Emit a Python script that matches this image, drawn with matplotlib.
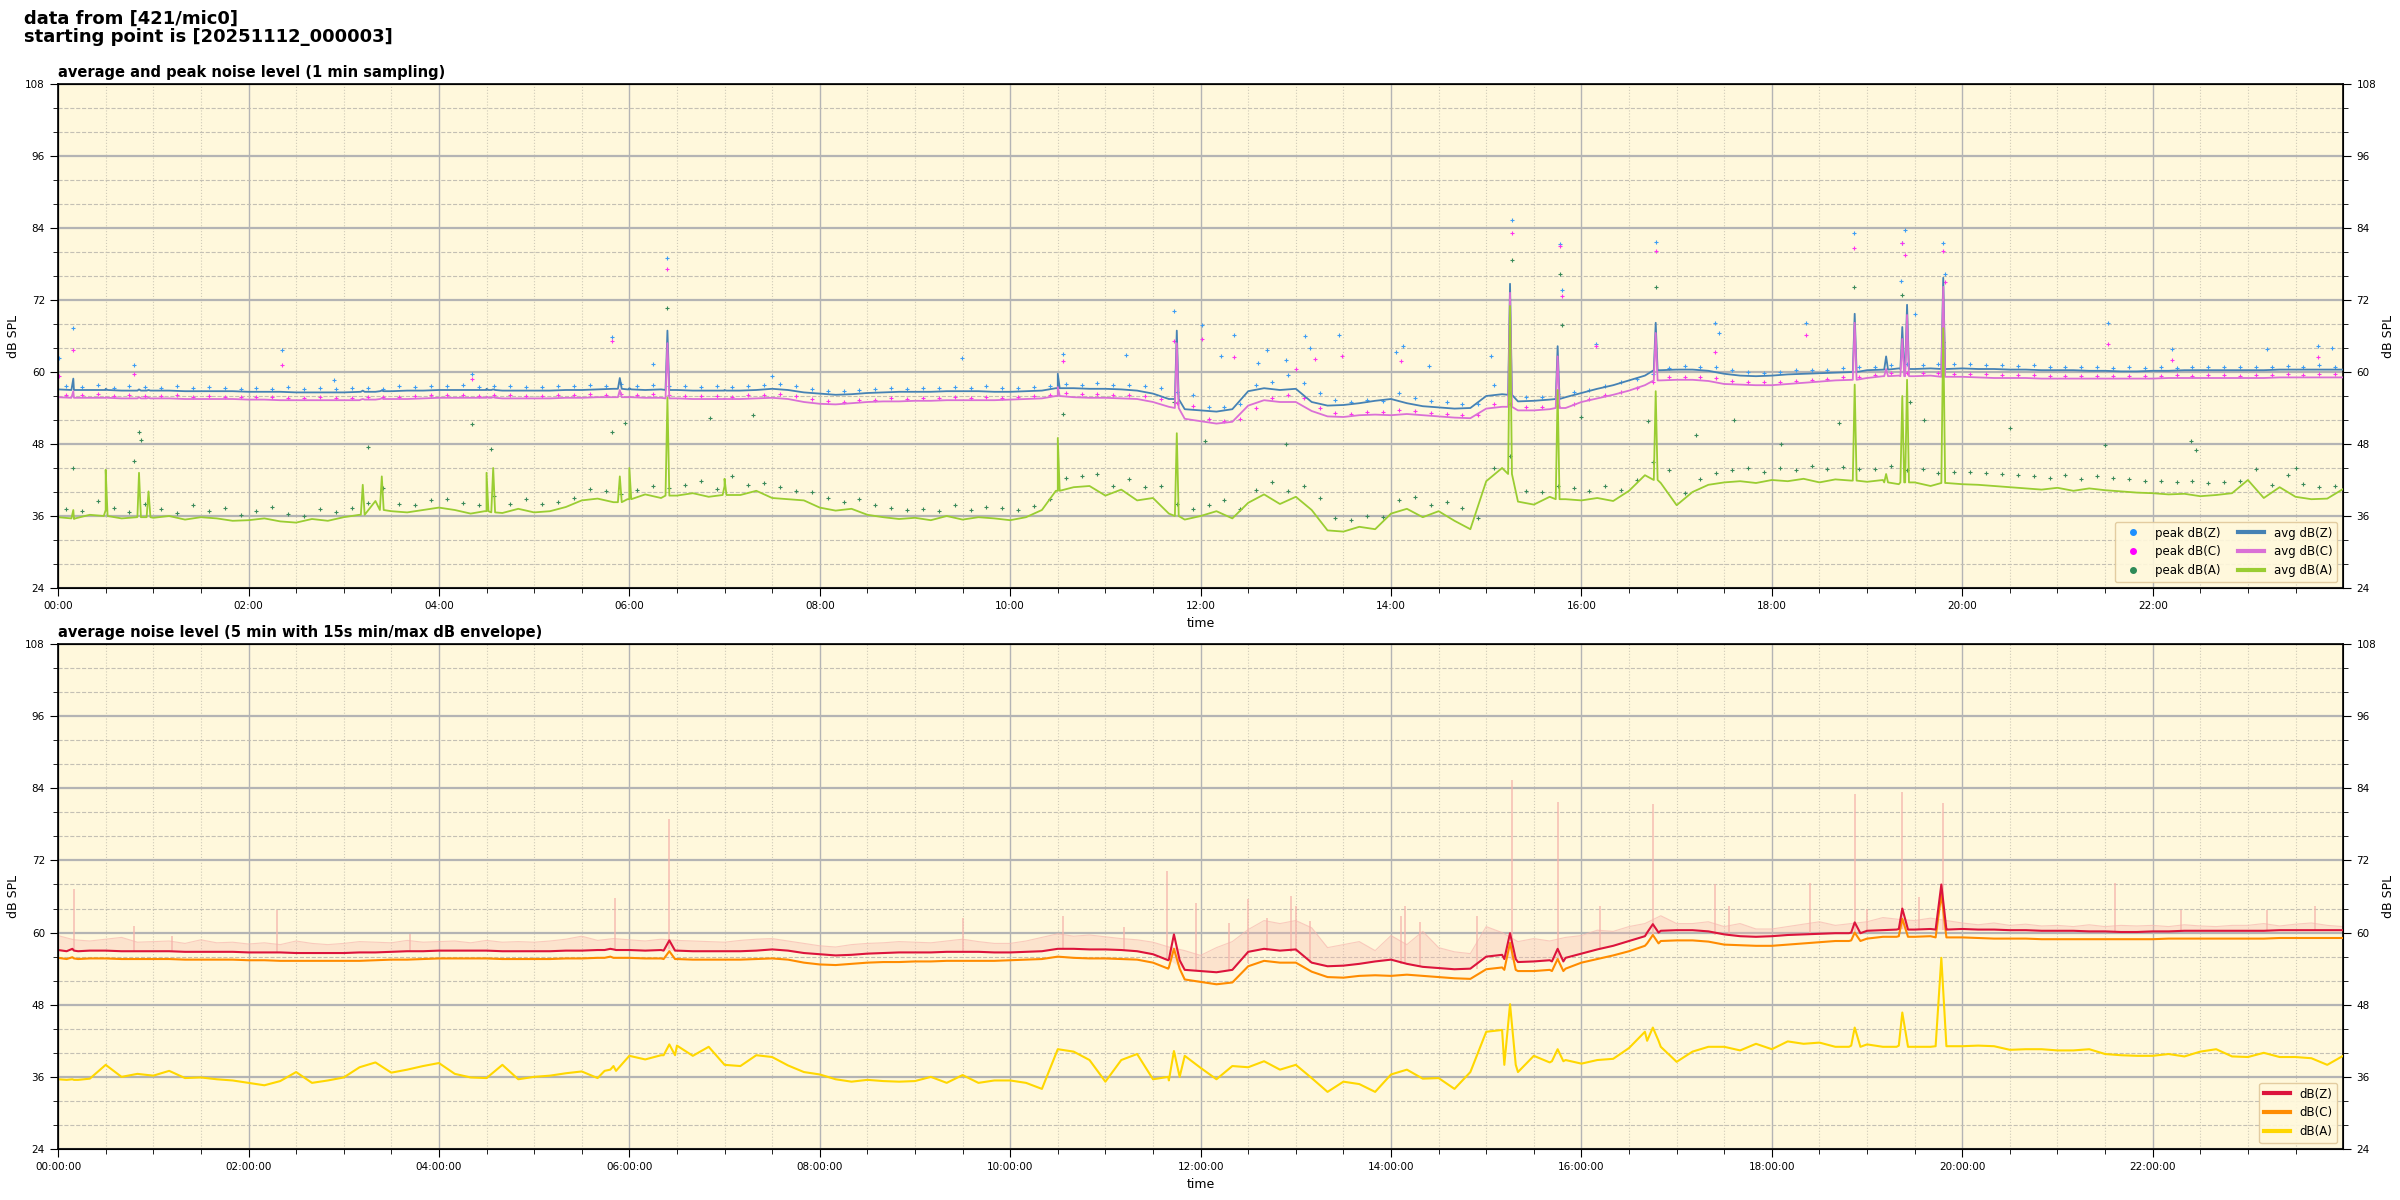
import numpy as np
import matplotlib
matplotlib.use("Agg")
import matplotlib.pyplot as plt
from matplotlib.lines import Line2D
from matplotlib.ticker import MultipleLocator, FixedLocator, FuncFormatter

# 10 min grid (hours), 00:00 .. 24:00
t10 = np.arange(145) / 6.0
# peak samples sit between grid points
tpk = (np.arange(144) + 0.5) / 6.0

# average dB(Z), 10 min steps
z_avg = [
    57.1, 57.0, 57.0, 57.0, 56.9, 56.9,
    56.9, 56.9, 56.8, 56.8, 56.8, 56.8,
    56.7, 56.7, 56.7, 56.6, 56.6, 56.6,
    56.6, 56.7, 56.7, 56.8, 56.9, 56.9,
    57.0, 57.0, 57.0, 57.0, 56.9, 56.9,
    56.9, 56.9, 57.0, 57.0, 57.1, 57.2,
    57.1, 57.0, 57.1, 57.0, 56.9, 56.9,
    56.9, 56.9, 57.0, 57.2, 57.0, 56.6,
    56.4, 56.2, 56.3, 56.5, 56.6, 56.7,
    56.7, 56.7, 56.8, 56.8, 56.8, 56.7,
    56.7, 56.8, 56.9, 57.3, 57.3, 57.2,
    57.2, 57.1, 56.9, 56.4, 55.5, 53.8,
    53.6, 53.4, 53.8, 56.8, 57.3, 57.0,
    57.2, 55.0, 54.4, 54.5, 54.8, 55.2,
    55.5, 54.8, 54.3, 54.1, 53.9, 54.0,
    56.0, 56.3, 55.1, 55.2, 55.4, 55.8,
    56.5, 57.2, 57.8, 58.6, 59.4, 60.3,
    60.4, 60.4, 60.2, 59.7, 59.4, 59.3,
    59.4, 59.6, 59.7, 59.8, 59.9, 60.0,
    60.3, 60.4, 60.6, 60.5, 60.6, 60.5,
    60.6, 60.5, 60.5, 60.4, 60.4, 60.3,
    60.3, 60.3, 60.2, 60.2, 60.1, 60.1,
    60.2, 60.2, 60.3, 60.3, 60.3, 60.3,
    60.3, 60.3, 60.4, 60.4, 60.4, 60.4,
    60.4,
]

# average dB(C), 10 min steps
c_avg = [
    55.8, 55.7, 55.7, 55.7, 55.6, 55.6,
    55.6, 55.6, 55.5, 55.5, 55.5, 55.5,
    55.4, 55.4, 55.3, 55.3, 55.3, 55.3,
    55.3, 55.3, 55.4, 55.5, 55.5, 55.6,
    55.7, 55.7, 55.7, 55.7, 55.6, 55.6,
    55.6, 55.6, 55.7, 55.7, 55.8, 55.8,
    55.8, 55.7, 55.7, 55.6, 55.5, 55.5,
    55.5, 55.5, 55.6, 55.7, 55.5, 55.0,
    54.7, 54.6, 54.8, 55.0, 55.1, 55.1,
    55.2, 55.2, 55.3, 55.3, 55.3, 55.3,
    55.4, 55.5, 55.6, 56.0, 55.8, 55.7,
    55.7, 55.6, 55.5, 55.0, 54.2, 52.2,
    51.8, 51.4, 51.7, 54.4, 55.3, 55.0,
    55.0, 53.5, 52.6, 52.5, 52.8, 52.9,
    52.8, 53.0, 52.8, 52.6, 52.4, 52.3,
    53.9, 54.2, 53.6, 53.6, 53.8, 54.0,
    55.0, 55.6, 56.2, 56.9, 57.8, 58.6,
    58.7, 58.7, 58.5, 58.0, 57.9, 57.8,
    57.8, 58.0, 58.2, 58.4, 58.6, 58.7,
    59.0, 59.3, 59.4, 59.3, 59.4, 59.2,
    59.2, 59.1, 59.0, 59.0, 59.0, 58.9,
    58.9, 58.9, 58.9, 58.9, 58.9, 58.9,
    58.9, 59.0, 59.0, 59.0, 59.0, 59.0,
    59.0, 59.0, 59.1, 59.1, 59.1, 59.1,
    59.1,
]

# average dB(A), 1 min panel, 10 min steps
a_top = [
    35.8, 35.5, 36.2, 37.0, 35.6, 35.9,
    35.7, 36.0, 35.4, 35.8, 35.6, 35.2,
    35.3, 35.6, 35.1, 34.9, 35.5, 35.2,
    35.8, 36.2, 38.5, 36.8, 36.6, 37.0,
    37.4, 37.0, 36.4, 36.8, 36.5, 37.2,
    36.6, 36.8, 37.5, 38.6, 38.9, 38.3,
    38.8, 39.6, 39.0, 39.4, 39.8, 39.2,
    41.0, 39.5, 40.2, 39.0, 38.8, 38.6,
    37.4, 36.9, 37.2, 36.2, 35.8, 35.5,
    35.7, 35.3, 36.0, 35.4, 35.8, 35.6,
    35.3, 35.8, 37.0, 40.2, 40.8, 41.0,
    39.4, 40.4, 38.6, 39.0, 36.4, 35.4,
    36.0, 36.8, 35.6, 38.2, 39.6, 38.0,
    39.2, 37.0, 33.6, 33.4, 34.2, 33.8,
    36.4, 37.2, 35.8, 36.8, 35.2, 33.8,
    41.8, 44.0, 38.4, 37.9, 39.2, 38.8,
    38.6, 39.0, 38.5, 40.2, 42.8, 41.5,
    37.8, 40.0, 41.2, 41.6, 41.8, 41.5,
    42.0, 41.8, 42.2, 41.6, 42.1, 41.9,
    41.7, 42.0, 41.3, 41.6, 41.0, 41.5,
    41.3, 41.2, 41.0, 40.8, 40.6, 40.4,
    40.7, 40.2, 40.6, 40.3, 40.1, 39.9,
    39.8, 39.6, 39.7, 39.3, 39.5, 39.8,
    42.0, 39.0, 40.8, 39.2, 38.8, 38.9,
    40.5,
]

# dB(A), 5 min panel, 10 min steps
a_bot = [
    35.6, 35.5, 35.7, 38.0, 36.0, 36.5,
    36.2, 37.0, 35.8, 35.9, 35.6, 35.4,
    35.0, 34.6, 35.3, 36.8, 35.0, 35.4,
    35.9, 37.6, 38.4, 36.7, 37.2, 37.8,
    38.3, 36.5, 35.9, 35.8, 38.0, 35.6,
    36.0, 36.2, 36.6, 36.9, 35.8, 37.8,
    39.5, 38.9, 39.6, 41.2, 39.5, 41.0,
    38.0, 37.8, 39.6, 39.3, 37.9, 36.8,
    36.4, 35.6, 35.2, 35.5, 35.3, 35.2,
    35.3, 36.0, 35.0, 36.3, 35.0, 35.4,
    35.4, 35.0, 34.0, 40.6, 40.2, 38.8,
    35.2, 38.8, 39.8, 35.6, 35.4, 39.5,
    37.5, 35.6, 37.8, 37.6, 38.6, 37.2,
    38.0, 35.8, 33.5, 35.2, 34.8, 33.5,
    36.4, 37.2, 35.7, 35.8, 34.0, 36.8,
    43.5, 43.8, 36.8, 39.5, 38.4, 38.8,
    38.2, 38.8, 39.0, 40.8, 43.5, 41.0,
    38.5, 40.2, 41.0, 41.0, 40.4, 41.5,
    40.6, 41.9, 41.5, 41.7, 41.0, 41.2,
    41.4, 41.0, 41.2, 41.0, 41.0, 41.1,
    41.1, 41.2, 41.1, 40.5, 40.6, 40.6,
    40.4, 40.4, 40.6, 39.8, 39.6, 39.5,
    39.5, 39.8, 39.4, 40.2, 40.6, 39.4,
    39.3, 40.0, 39.3, 39.3, 39.1, 38.0,
    39.5,
]

# 15 s max envelope of dB(Z), 10 min steps
env_hi = [
    59.5, 58.8, 58.6, 58.9, 59.2, 58.4,
    58.5, 58.6, 58.2, 58.8, 58.3, 58.4,
    58.1, 58.3, 58.0, 58.6, 58.2, 58.0,
    58.2, 58.5, 58.4, 58.3, 58.7, 58.4,
    58.5, 58.6, 58.3, 58.7, 58.4, 58.5,
    58.4, 58.6, 58.9, 59.4, 58.7, 59.0,
    58.8, 58.6, 58.9, 58.7, 58.6, 58.5,
    58.4, 58.7, 58.9, 59.0, 58.6, 58.2,
    57.8, 57.6, 58.0, 58.2, 58.3, 58.5,
    58.4, 58.3, 58.6, 58.9, 58.5, 58.2,
    58.2, 58.6, 59.2, 59.8, 59.4, 59.6,
    59.3, 59.0, 58.8, 58.4, 57.6, 57.0,
    56.2, 57.5, 58.5, 60.5, 62.0, 61.5,
    62.0, 60.8, 57.5, 58.0, 58.5, 57.0,
    59.5, 58.0, 60.2, 57.5, 56.8, 56.5,
    61.0, 60.0, 58.5, 59.0, 58.6, 59.2,
    59.5, 60.4, 60.2, 61.0, 61.5, 62.8,
    61.5, 61.5, 61.8, 61.0, 61.5, 60.6,
    60.6, 61.0, 61.4, 61.8, 61.2, 61.5,
    61.8, 62.5, 62.2, 62.0, 62.4, 62.0,
    61.6, 61.3, 61.6, 61.2, 61.4, 61.1,
    61.2, 61.0, 61.3, 61.0, 61.2, 61.1,
    61.2, 61.0, 61.3, 61.1, 61.0, 61.2,
    61.2, 61.5, 61.1, 61.4, 61.6, 61.2,
    61.0,
]

# peak dB(Z)/dB(C)/dB(A), 1 min panel
pk_z = [
    57.6, 57.5, 57.8, 57.4, 57.6, 57.5, 57.4, 57.6, 57.3, 57.5, 57.4, 57.2,
    57.3, 57.2, 57.5, 57.1, 57.3, 57.2, 57.3, 57.4, 57.2, 57.6, 57.5, 57.7,
    57.6, 57.8, 57.5, 57.7, 57.6, 57.5, 57.5, 57.7, 57.6, 57.8, 57.7, 58.0,
    57.7, 57.8, 57.6, 57.7, 57.5, 57.6, 57.5, 57.7, 57.8, 58.0, 57.6, 57.2,
    56.9, 56.8, 57.0, 57.2, 57.3, 57.2, 57.4, 57.3, 57.5, 57.4, 57.6, 57.3,
    57.3, 57.5, 57.6, 58.0, 57.9, 58.2, 57.9, 57.8, 57.7, 57.3, 56.7, 56.2,
    54.2, 54.1, 54.6, 57.8, 58.3, 59.5, 58.2, 56.5, 55.4, 55.0, 55.3, 55.1,
    56.5, 55.6, 55.2, 55.0, 54.7, 54.6, 57.8, 56.5, 55.8, 55.9, 56.3, 56.6,
    57.0, 57.6, 58.3, 58.9, 59.7, 60.6, 61.0, 60.9, 60.8, 60.3, 60.0, 59.9,
    60.0, 60.3, 60.4, 60.4, 60.6, 60.8, 60.9, 61.2, 61.3, 61.2, 61.4, 61.4,
    61.3, 61.1, 61.2, 61.0, 61.1, 60.9, 60.9, 60.8, 60.9, 60.7, 60.8, 60.6,
    60.8, 60.7, 60.9, 60.8, 60.9, 60.8, 60.9, 60.8, 61.0, 60.9, 61.1, 60.9,
]
pk_c = [
    56.2, 56.1, 56.3, 56.0, 56.1, 56.0, 56.0, 56.1, 55.9, 56.0, 55.9, 55.8,
    55.8, 55.8, 55.7, 55.7, 55.8, 55.6, 55.7, 55.8, 55.8, 55.9, 56.0, 56.1,
    56.1, 56.2, 56.0, 56.2, 56.1, 56.0, 56.0, 56.2, 56.1, 56.3, 56.2, 56.4,
    56.2, 56.3, 56.1, 56.0, 56.0, 56.0, 55.9, 56.1, 56.1, 56.3, 56.0, 55.5,
    55.1, 55.0, 55.3, 55.4, 55.6, 55.5, 55.7, 55.6, 55.8, 55.7, 55.8, 55.7,
    55.8, 56.0, 56.1, 56.5, 56.3, 56.3, 56.2, 56.1, 56.0, 55.5, 54.9, 54.4,
    52.2, 51.8, 52.2, 54.0, 55.6, 56.2, 55.6, 54.0, 53.1, 53.0, 53.3, 53.4,
    53.6, 53.5, 53.2, 53.0, 52.9, 52.8, 54.6, 54.7, 54.1, 54.1, 54.3, 54.6,
    55.5, 56.1, 56.7, 57.4, 58.3, 59.1, 59.2, 59.2, 59.0, 58.5, 58.3, 58.3,
    58.3, 58.5, 58.7, 58.9, 59.1, 59.2, 59.5, 59.8, 59.9, 59.8, 59.9, 59.7,
    59.7, 59.6, 59.5, 59.5, 59.5, 59.4, 59.4, 59.4, 59.4, 59.4, 59.3, 59.4,
    59.4, 59.5, 59.4, 59.5, 59.5, 59.4, 59.5, 59.5, 59.6, 59.5, 59.6, 59.6,
]
pk_a = [
    37.2, 36.8, 38.5, 37.4, 36.6, 38.0, 37.1, 36.5, 37.8, 36.9, 37.4, 36.2,
    36.8, 37.5, 36.4, 36.0, 37.2, 36.6, 37.3, 38.2, 40.6, 38.0, 37.8, 38.6,
    38.9, 38.2, 37.9, 39.4, 38.0, 38.8, 38.0, 38.4, 39.0, 40.5, 40.2, 39.6,
    40.4, 41.0, 40.6, 41.2, 41.8, 40.5, 42.6, 41.2, 41.5, 40.8, 40.2, 40.0,
    39.0, 38.4, 38.8, 37.8, 37.4, 37.0, 37.2, 36.8, 37.8, 37.0, 37.5, 37.3,
    37.0, 37.6, 38.8, 42.4, 42.6, 43.0, 41.0, 42.2, 40.8, 41.0, 38.0, 37.2,
    37.8, 38.6, 37.2, 40.4, 41.6, 40.2, 41.0, 39.0, 35.6, 35.4, 36.0, 35.8,
    38.6, 39.2, 37.8, 38.4, 37.4, 35.6, 44.0, 46.0, 40.2, 40.0, 41.0, 40.6,
    40.2, 41.0, 40.4, 42.0, 45.0, 43.6, 39.8, 42.2, 43.2, 43.6, 44.0, 43.4,
    44.0, 43.6, 44.4, 43.8, 44.2, 43.9, 43.8, 44.4, 43.6, 43.8, 43.2, 43.4,
    43.4, 43.2, 43.0, 42.8, 42.6, 42.4, 42.8, 42.2, 42.6, 42.4, 42.1, 41.9,
    41.9, 41.6, 41.8, 41.5, 41.6, 41.8, 43.8, 41.2, 42.8, 41.4, 40.9, 41.0,
]

# isolated peak readings (hour, dB)
out_z = [(0.01, 62.3), (0.16, 67.3), (0.8, 61.1), (2.35, 63.7), (2.9, 58.6), (4.35, 59.7),
         (5.82, 65.8), (6.25, 61.4), (6.4, 79.0), (7.5, 59.4), (9.49, 62.3), (10.55, 63.0),
         (11.22, 62.9), (11.72, 70.2), (12.01, 67.9), (12.21, 62.6), (12.35, 66.1), (12.6, 61.5),
         (12.7, 63.6), (12.9, 62.0), (13.1, 66.0), (13.15, 64.0), (13.45, 66.1), (14.05, 63.4),
         (14.13, 64.4), (14.4, 61.0), (15.05, 62.7), (15.27, 85.4), (15.78, 81.3), (15.8, 73.6),
         (16.15, 64.7), (16.78, 81.6), (17.4, 68.1), (17.45, 66.5), (18.36, 68.2), (18.86, 83.2),
         (19.37, 81.5), (19.36, 75.1), (19.4, 83.6), (19.5, 69.6), (19.8, 81.5), (19.82, 76.4),
         (21.53, 68.2), (22.2, 63.8), (23.2, 63.8), (23.74, 64.4), (23.88, 64.0)]
out_c = [(0.01, 59.3), (0.16, 63.7), (0.8, 59.7), (2.35, 61.2), (4.35, 58.8), (5.82, 65.2),
         (6.4, 77.2), (10.55, 61.8), (11.72, 65.1), (12.01, 65.5), (12.35, 62.5), (13.0, 60.5),
         (13.2, 62.2), (13.48, 62.7), (14.1, 61.8), (15.27, 83.1), (15.78, 81.0), (15.8, 72.6),
         (16.15, 64.3), (16.78, 80.2), (17.4, 63.4), (18.36, 66.2), (18.86, 80.7), (19.37, 81.5),
         (19.4, 79.5), (19.8, 80.1), (19.82, 75.0), (21.53, 64.6), (22.2, 62.0), (23.74, 62.5)]
out_a = [(0.16, 44.0), (0.8, 45.1), (0.85, 50.0), (0.87, 48.6), (3.25, 47.5), (4.35, 51.4),
         (4.55, 47.2), (5.82, 50.0), (5.95, 51.5), (6.4, 70.7), (6.85, 52.3), (7.3, 52.8),
         (10.55, 53.0), (11.72, 55.0), (12.05, 48.5), (12.9, 48.0), (15.27, 78.6), (15.78, 76.4),
         (15.8, 67.8), (16.0, 52.5), (16.78, 74.1), (16.7, 51.8), (17.2, 49.5), (17.6, 52.0),
         (18.1, 48.0), (18.86, 74.1), (18.7, 51.5), (19.37, 72.9), (19.45, 55.0), (19.8, 65.0),
         (19.6, 52.0), (20.5, 50.6), (21.5, 47.9), (22.4, 48.5), (22.45, 47.0), (23.5, 44.0)]

# short events in the 1 min averages: hour, Z base/top, C base/top, A base/top
spikes_top = [
    (0.16, 57.0, 58.9, 55.7, 56.8, 35.6, 37.0),
    (0.50, 57.0, 57.2, 55.7, 55.8, 36.0, 43.7),
    (0.85, 56.9, 57.1, 55.6, 55.8, 35.8, 43.2),
    (0.95, 56.9, 57.0, 55.6, 55.7, 35.8, 40.1),
    (3.20, 56.7, 56.9, 55.4, 55.5, 36.2, 41.2),
    (3.40, 56.8, 56.9, 55.5, 55.6, 37.0, 42.6),
    (4.50, 57.0, 57.2, 55.7, 55.9, 36.8, 43.2),
    (4.57, 57.0, 57.1, 55.7, 55.8, 36.6, 44.0),
    (5.90, 57.2, 59.0, 55.8, 57.0, 38.3, 42.6),
    (6.00, 57.1, 57.3, 55.8, 55.9, 38.8, 44.0),
    (6.40, 57.0, 66.9, 55.6, 64.8, 39.4, 55.7),
    (7.00, 56.9, 57.0, 55.5, 55.6, 39.5, 42.2),
    (10.50, 57.3, 59.7, 56.0, 57.5, 40.2, 49.0),
    (11.75, 55.5, 66.9, 54.0, 64.8, 36.0, 49.8),
    (15.25, 56.2, 74.7, 54.2, 73.2, 43.0, 71.0),
    (15.75, 55.5, 64.3, 54.0, 62.6, 38.8, 57.0),
    (16.78, 60.3, 68.2, 58.6, 66.5, 42.0, 56.8),
    (18.87, 60.0, 69.7, 58.7, 68.2, 41.9, 57.9),
    (19.20, 60.4, 62.6, 59.3, 60.5, 41.6, 43.0),
    (19.37, 60.5, 67.5, 59.3, 65.5, 41.6, 56.0),
    (19.42, 60.5, 71.2, 59.3, 69.5, 41.6, 58.7),
    (19.80, 60.5, 75.7, 59.2, 74.2, 41.5, 67.3),
]

# events in the 5 min averages: hour, Z base/top, C base/top, A base/top
spikes_bot = [
    (0.15, 56.9, 57.3, 55.6, 55.9, 35.5, 35.6),
    (5.80, 57.1, 57.3, 55.8, 56.0, 37.0, 37.2),
    (6.42, 57.0, 58.7, 55.6, 56.9, 39.6, 41.4),
    (11.72, 55.4, 59.7, 54.0, 57.3, 36.0, 40.3),
    (15.25, 55.6, 59.9, 53.8, 58.3, 38.0, 48.1),
    (15.75, 55.2, 57.3, 53.6, 55.6, 38.6, 40.6),
    (16.75, 60.0, 61.4, 58.2, 59.6, 42.0, 44.2),
    (18.87, 59.9, 61.7, 58.6, 60.0, 41.0, 44.2),
    (19.37, 60.5, 64.0, 59.3, 62.3, 41.0, 46.7),
    (19.78, 60.5, 68.0, 59.2, 66.4, 41.1, 55.8),
]

# tall 15 s maxima: hour, low, high
env_spikes = [
    (0.17, 57.0, 67.3), (0.8, 57.0, 61.1), (1.2, 56.8, 59.5), (2.3, 56.7, 63.8),
    (3.7, 56.9, 59.8), (5.85, 57.1, 65.7), (6.42, 57.2, 78.9), (9.5, 56.8, 62.5),
    (10.55, 57.3, 62.8), (11.2, 57.1, 61.0), (11.65, 55.6, 70.2), (11.95, 53.6, 65.0),
    (12.3, 53.8, 61.6), (12.5, 55.0, 65.6), (12.7, 57.0, 62.5), (12.95, 56.8, 66.1),
    (13.0, 56.8, 64.4), (13.15, 55.0, 62.0), (14.1, 54.8, 62.8), (14.15, 54.8, 64.4),
    (14.3, 54.3, 61.8), (14.9, 54.0, 62.8), (15.27, 55.5, 85.3), (15.75, 55.5, 81.7),
    (16.2, 57.2, 64.4), (16.75, 59.5, 81.4), (17.4, 59.6, 68.0), (17.55, 59.4, 64.4),
    (18.4, 59.7, 68.3), (18.87, 60.0, 83.0), (19.0, 60.2, 64.0), (19.37, 60.6, 83.4),
    (19.55, 60.5, 66.0), (19.8, 60.5, 81.6), (21.6, 60.2, 68.2), (22.3, 60.3, 63.8),
    (23.2, 60.3, 63.8), (23.7, 60.4, 64.4),
]

BG = "cornsilk"


def add_spikes(t, y, spikes, col, half):
    ts = list(t)
    ys = list(y)
    for row in spikes:
        ts += [row[0] - half, row[0], row[0] + half]
        ys += [row[col], row[col + 1], row[col]]
    order = np.argsort(ts, kind="stable")
    return np.array(ts)[order], np.array(ys)[order]


def style_axes(ax, fmt):
    ax.set_facecolor(BG)
    ax.set_xlim(0, 24)
    ax.set_ylim(24, 108)
    # last labelled tick is 22:00, the axis ends at 24:00 without a label
    ax.xaxis.set_major_locator(FixedLocator(np.arange(0, 23, 2)))
    ax.xaxis.set_minor_locator(FixedLocator(np.arange(0, 24, 0.5)))
    ax.yaxis.set_major_locator(MultipleLocator(12))
    ax.yaxis.set_minor_locator(MultipleLocator(4))
    ax.xaxis.set_major_formatter(FuncFormatter(lambda v, p: fmt % int(round(v))))
    ax.grid(which="major", axis="y", color="#b4b4b4", lw=1.6, ls="-")
    ax.grid(which="minor", axis="y", color="#c4c0b4", lw=0.8, ls="--")
    ax.grid(which="major", axis="x", color="#b4b4b4", lw=1.0, ls="-")
    ax.grid(which="minor", axis="x", color="#d0cbb8", lw=0.8, ls=":")
    ax.set_axisbelow(True)
    ax.tick_params(which="both", direction="out", labelsize=7.5)
    ax.tick_params(which="major", length=6)
    ax.tick_params(which="minor", length=3.5)
    for s in ax.spines.values():
        s.set_linewidth(1.2)
    ax.set_xlabel("time", fontsize=9)
    ax.set_ylabel("dB SPL", fontsize=9)
    tw = ax.twinx()
    tw.set_ylim(24, 108)
    tw.yaxis.set_major_locator(MultipleLocator(12))
    tw.yaxis.set_minor_locator(MultipleLocator(4))
    tw.tick_params(which="both", direction="out", labelsize=7.5)
    tw.tick_params(which="major", length=6)
    tw.tick_params(which="minor", length=3.5)
    tw.set_ylabel("dB SPL", fontsize=9)
    return tw


fig = plt.figure(figsize=(24, 12), dpi=100)
fig.text(0.01, 0.992, "data from [421/mic0]\nstarting point is [20251112_000003]",
         fontsize=13, fontweight="bold", va="top", ha="left", linespacing=1.0)

# ---- top panel: 1 min sampling ----
ax1 = fig.add_axes([0.0242, 0.51, 0.9521, 0.42])
style_axes(ax1, "%02d:00")
ax1.set_title("average and peak noise level (1 min sampling)", loc="left",
              fontsize=10.5, fontweight="bold", pad=5)

ms = 12
ax1.scatter(tpk, pk_z, marker="+", s=ms, lw=0.8, color="#3d9df5", zorder=3)
ax1.scatter([p[0] for p in out_z], [p[1] for p in out_z], marker="+", s=ms, lw=0.8, color="#3d9df5", zorder=3)
ax1.scatter(tpk, pk_c, marker="+", s=ms, lw=0.8, color="#ff33ee", zorder=3)
ax1.scatter([p[0] for p in out_c], [p[1] for p in out_c], marker="+", s=ms, lw=0.8, color="#ff33ee", zorder=3)
ax1.scatter(tpk, pk_a, marker="+", s=ms, lw=0.8, color="#3a8a5a", zorder=3)
ax1.scatter([p[0] for p in out_a], [p[1] for p in out_a], marker="+", s=ms, lw=0.8, color="#3a8a5a", zorder=3)

tz, yz = add_spikes(t10, z_avg, spikes_top, 1, 0.02)
tc, yc = add_spikes(t10, c_avg, spikes_top, 3, 0.02)
ta, ya = add_spikes(t10, a_top, spikes_top, 5, 0.02)
ax1.plot(tz, yz, color="#4682b4", lw=1.3, zorder=4)
ax1.plot(tc, yc, color="#da70d6", lw=1.3, zorder=4)
ax1.plot(ta, ya, color="#9acd32", lw=1.3, zorder=4)

h1 = [
    Line2D([], [], ls="", marker="o", ms=4, color="#1e90ff", label="peak dB(Z)"),
    Line2D([], [], ls="", marker="o", ms=4, color="#ff00ff", label="peak dB(C)"),
    Line2D([], [], ls="", marker="o", ms=4, color="#2e8b57", label="peak dB(A)"),
    Line2D([], [], lw=3, color="#4682b4", label="avg dB(Z)"),
    Line2D([], [], lw=3, color="#da70d6", label="avg dB(C)"),
    Line2D([], [], lw=3, color="#9acd32", label="avg dB(A)"),
]
lg1 = ax1.legend(handles=h1, ncol=2, loc="lower right", fontsize=8.5, facecolor=BG,
                 edgecolor="#e0c89a", framealpha=0.9, handlelength=2.2, columnspacing=1.5)
lg1.set_zorder(10)

# ---- bottom panel: 5 min averages with envelope ----
ax2 = fig.add_axes([0.0242, 0.0425, 0.9521, 0.4208])
style_axes(ax2, "%02d:00:00")
ax2.set_title("average noise level (5 min with 15s min/max dB envelope)", loc="left",
              fontsize=10.5, fontweight="bold", pad=5)

ax2.fill_between(t10, z_avg, env_hi, color="#f7b8b0", alpha=0.32, lw=0, zorder=2)
ax2.plot(t10, env_hi, color="#f7b8b0", lw=0.8, alpha=0.7, zorder=2)
ax2.vlines([e[0] for e in env_spikes], [e[1] for e in env_spikes], [e[2] for e in env_spikes],
           color="#f5b3ab", lw=1.2, alpha=0.8, zorder=2)

bz_t, bz_y = add_spikes(t10, z_avg, spikes_bot, 1, 0.06)
bc_t, bc_y = add_spikes(t10, c_avg, spikes_bot, 3, 0.06)
ba_t, ba_y = add_spikes(t10, a_bot, spikes_bot, 5, 0.06)
ax2.plot(bc_t, bc_y, color="#ff8c00", lw=1.5, zorder=4)
ax2.plot(bz_t, bz_y, color="#dc143c", lw=1.5, zorder=5)
ax2.plot(ba_t, ba_y, color="#ffd700", lw=1.5, zorder=4)

h2 = [
    Line2D([], [], lw=3, color="#dc143c", label="dB(Z)"),
    Line2D([], [], lw=3, color="#ff8c00", label="dB(C)"),
    Line2D([], [], lw=3, color="#ffd700", label="dB(A)"),
]
lg2 = ax2.legend(handles=h2, loc="lower right", fontsize=8.5, facecolor=BG,
                 edgecolor="#e0c89a", framealpha=0.9, handlelength=2.2)
lg2.set_zorder(10)

fig.savefig("out.png", dpi=100)
